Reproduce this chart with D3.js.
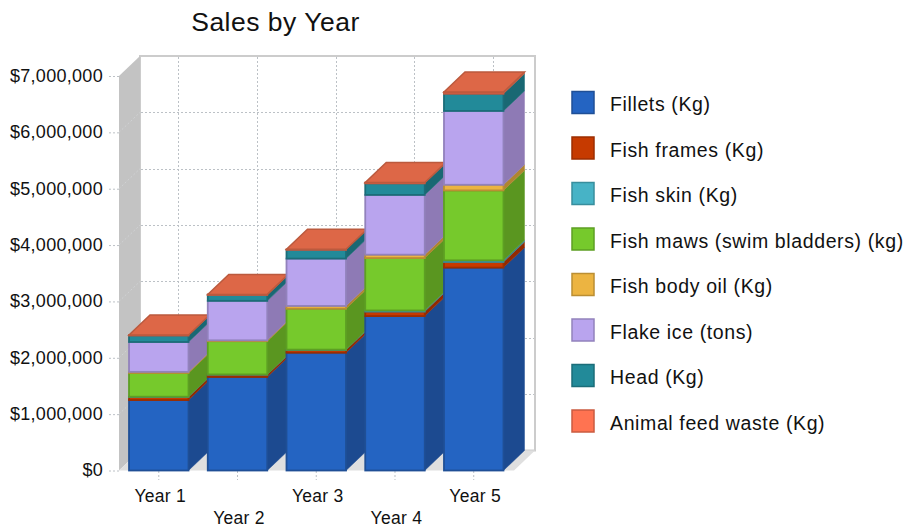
<!DOCTYPE html>
<html>
<head>
<meta charset="utf-8">
<title>Sales by Year</title>
<script src="https://cdn.jsdelivr.net/npm/d3@7"></script>
<style>
  html, body { margin: 0; padding: 0; background: #fff; }
  svg { display: block; }
  text { font-family: "Liberation Sans", Arial, sans-serif; fill: #111; }
</style>
</head>
<body>
<div id="chart"></div>
<script>
var years = ["Year 1", "Year 2", "Year 3", "Year 4", "Year 5"];
var seriesNames = ["Fillets (Kg)", "Fish frames (Kg)", "Fish skin (Kg)", "Fish maws (swim bladders) (kg)",
                   "Fish body oil (Kg)", "Flake ice (tons)", "Head (Kg)", "Animal feed waste (Kg)"];

var fillets   = [1250000, 1660000, 2090000, 2740000, 3600000];
var frames    = [  55000,   40000,   50000,   80000,  100000];
var skin      = [   5000,    5000,    5000,   20000,   30000];
var maws      = [ 420000,  590000,  725000,  930000, 1240000];
var bodyOil   = [  20000,   15000,   50000,   60000,  100000];
var flakeIce  = [ 530000,  700000,  840000, 1060000, 1310000];
var head      = [ 115000,  105000,  155000,  205000,  305000];
var feedWaste = [  10000,   10000,   10000,   15000,   30000];

var tickValues = [0, 1000000, 2000000, 3000000, 4000000, 5000000, 6000000, 7000000];

var fills   = ["#2464c2", "#c63a00", "#47b3c6", "#76c92c", "#ecb441", "#b9a4ee", "#228a99", "#ff7351"];
var borders = ["#1f4f96", "#9c2e00", "#388e9d", "#5d9f23", "#bb8e33", "#9282bc", "#1b6d79", "#ca5b40"];
var sides   = ["#1c4a90", "#932a00", "#358594", "#5a9620", "#b08530", "#8e7ab5", "#196873", "#c4553a"];
var topFill = "#dd6747";

var width = 905, height = 527;
var depthX = 21, depthY = 20;

var x = d3.scaleBand().domain(years).range([119.4, 513.1]);
var y = d3.scaleLinear().domain([0, 7000000]).range([470.5, 76]);
var barWidth = 59.5;

var rows = years.map(function(year, i) {
    return {year: year, s0: fillets[i], s1: frames[i], s2: skin[i], s3: maws[i],
            s4: bodyOil[i], s5: flakeIce[i], s6: head[i], s7: feedWaste[i]};
});
var stacked = d3.stack().keys(d3.range(8).map(function(k) { return "s" + k; }))(rows);

var svg = d3.select("#chart").append("svg")
    .attr("width", width)
    .attr("height", height);

function pts(list) {
    return list.map(function(p) { return p.join(","); }).join(" ");
}

// back wall, left wall and floor
var x0 = 119, x1 = 514, yTop = y(7000000), yBase = y(0);

svg.append("rect")
    .attr("x", x0 + depthX).attr("y", yTop - depthY)
    .attr("width", x1 - x0).attr("height", yBase - yTop)
    .attr("fill", "#fff").attr("stroke", "#cccccc").attr("stroke-width", 2);
svg.append("polygon")
    .attr("points", pts([[x0, yTop], [x0 + depthX, yTop - depthY], [x0 + depthX, yBase - depthY], [x0, yBase]]))
    .attr("fill", "#c3c3c3");
svg.append("polygon")
    .attr("points", pts([[x0, yBase], [x1, yBase], [x1 + depthX, yBase - depthY], [x0 + depthX, yBase - depthY]]))
    .attr("fill", "#dfdfdf");

// dotted grid on the back wall
var dots = "2,2";
var gridColor = "#bcc1c6";

svg.selectAll("line.hgrid")
    .data(tickValues.slice(1, 7))
    .enter().append("line")
    .attr("class", "hgrid")
    .attr("x1", x0 + depthX + 1).attr("x2", x1 + depthX - 1)
    .attr("y1", function(d) { return Math.round(y(d)) - depthY + 0.5; })
    .attr("y2", function(d) { return Math.round(y(d)) - depthY + 0.5; })
    .attr("stroke", gridColor).attr("stroke-dasharray", dots);

svg.selectAll("line.vgrid")
    .data(years)
    .enter().append("line")
    .attr("class", "vgrid")
    .attr("x1", function(d) { return Math.floor(x(d) + x.bandwidth() / 2) + depthX - 0.5; })
    .attr("x2", function(d) { return Math.floor(x(d) + x.bandwidth() / 2) + depthX - 0.5; })
    .attr("y1", yTop - depthY + 1).attr("y2", yBase - depthY)
    .attr("stroke", gridColor).attr("stroke-dasharray", dots);

// faint continuation of the value ticks across the left wall
svg.selectAll("line.wallgrid")
    .data(tickValues.slice(1, 7))
    .enter().append("line")
    .attr("class", "wallgrid")
    .attr("x1", x0).attr("x2", x0 + depthX)
    .attr("y1", function(d) { return y(d); })
    .attr("y2", function(d) { return y(d) - depthY; })
    .attr("stroke", "#d0d2d4").attr("stroke-dasharray", dots);

// axes
var yAxis = d3.axisLeft(y)
    .tickValues(tickValues)
    .tickFormat(d3.format("$,"))
    .tickSize(10)
    .tickPadding(6);
var gy = svg.append("g").attr("transform", "translate(119,0)").call(yAxis);
gy.select(".domain").remove();
gy.selectAll("line").attr("stroke", gridColor).attr("stroke-dasharray", dots);
gy.selectAll("text")
    .attr("fill", "#111")
    .attr("dy", "0.3em")
    .style("font-size", "18px")
    .style("letter-spacing", "0.3px");

var xAxis = d3.axisBottom(x).tickSize(9).tickPadding(0);
var gx = svg.append("g").attr("transform", "translate(0,471)").call(xAxis);
gx.select(".domain").remove();
gx.selectAll("line").attr("stroke", gridColor).attr("stroke-dasharray", dots);
gx.selectAll("text")
    .attr("fill", "#111")
    .style("font-size", "17.5px")
    .style("letter-spacing", "0.3px")
    .attr("x", 1.5)
    .attr("y", function(d, i) { return i % 2 ? 38 : 16; })
    .attr("dy", "0.85em");

// one group per year so the bars overlap from left to right
var bars = svg.selectAll("g.bar")
    .data(years)
    .enter().append("g")
    .attr("class", "bar");

bars.each(function(year, i) {
    var g = d3.select(this);
    var left = x(year) + (x.bandwidth() - barWidth) / 2;
    var right = left + barWidth;

    stacked.forEach(function(layer, k) {
        var low = y(layer[i][0]), high = y(layer[i][1]);
        g.append("polygon")
            .attr("points", pts([[right, high], [right + depthX, high - depthY],
                                 [right + depthX, low - depthY], [right, low]]))
            .attr("fill", sides[k])
            .attr("stroke", sides[k])
            .attr("stroke-width", 0.5);
    });

    stacked.forEach(function(layer, k) {
        var low = y(layer[i][0]), high = y(layer[i][1]);
        g.append("rect")
            .attr("x", left).attr("y", high)
            .attr("width", barWidth).attr("height", low - high)
            .attr("fill", fills[k])
            .attr("stroke", borders[k])
            .attr("stroke-width", 1.8);
    });

    var total = y(stacked[7][i][1]);
    g.append("polygon")
        .attr("points", pts([[left, total], [right, total],
                             [right + depthX, total - depthY], [left + depthX, total - depthY]]))
        .attr("fill", topFill)
        .attr("stroke", "#bb5a3e")
        .attr("stroke-width", 1.5);
});

// title
svg.append("text")
    .attr("x", 275.5).attr("y", 31)
    .attr("text-anchor", "middle")
    .style("font-size", "26.5px")
    .style("letter-spacing", "0.5px")
    .text("Sales by Year");

// legend
var legend = svg.selectAll("g.legend")
    .data(seriesNames)
    .enter().append("g")
    .attr("class", "legend")
    .attr("transform", function(d, i) { return "translate(572," + (91.5 + i * 45.5) + ")"; });

legend.append("rect")
    .attr("width", 22).attr("height", 22)
    .attr("fill", function(d, i) { return fills[i]; })
    .attr("stroke", function(d, i) { return borders[i]; })
    .attr("stroke-width", 1.5);

legend.append("text")
    .attr("x", 38).attr("y", 19.5)
    .style("font-size", "19.5px")
    .style("letter-spacing", "0.62px")
    .text(function(d) { return d; });
</script>
</body>
</html>
